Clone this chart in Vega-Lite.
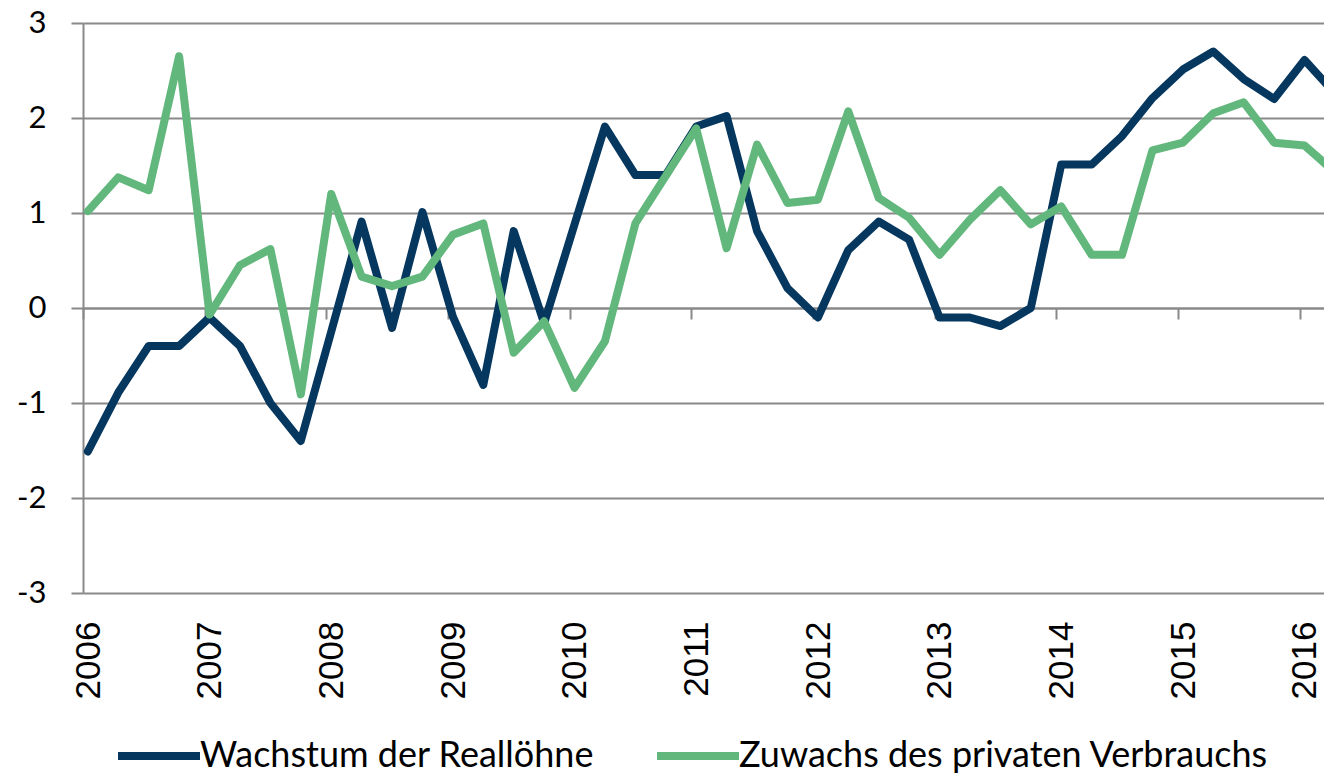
{
  "$schema": "https://vega.github.io/schema/vega-lite/v6.json",
  "width": 1241,
  "height": 570,
  "autosize": {"type": "none"},
  "padding": {"left": 83, "top": 23, "right": 0, "bottom": 181},
  "background": "white",
  "config": {"view": {"stroke": null}},
  "data": {"values": [
    {"t": 2006.04, "v": -1.51, "s": "Wachstum der Reallöhne"},
    {"t": 2006.29, "v": -0.89, "s": "Wachstum der Reallöhne"},
    {"t": 2006.54, "v": -0.40, "s": "Wachstum der Reallöhne"},
    {"t": 2006.79, "v": -0.40, "s": "Wachstum der Reallöhne"},
    {"t": 2007.04, "v": -0.10, "s": "Wachstum der Reallöhne"},
    {"t": 2007.29, "v": -0.40, "s": "Wachstum der Reallöhne"},
    {"t": 2007.54, "v": -1.00, "s": "Wachstum der Reallöhne"},
    {"t": 2007.79, "v": -1.40, "s": "Wachstum der Reallöhne"},
    {"t": 2008.04, "v": -0.25, "s": "Wachstum der Reallöhne"},
    {"t": 2008.29, "v": 0.91, "s": "Wachstum der Reallöhne"},
    {"t": 2008.54, "v": -0.21, "s": "Wachstum der Reallöhne"},
    {"t": 2008.79, "v": 1.01, "s": "Wachstum der Reallöhne"},
    {"t": 2009.04, "v": -0.09, "s": "Wachstum der Reallöhne"},
    {"t": 2009.29, "v": -0.81, "s": "Wachstum der Reallöhne"},
    {"t": 2009.54, "v": 0.81, "s": "Wachstum der Reallöhne"},
    {"t": 2009.79, "v": -0.16, "s": "Wachstum der Reallöhne"},
    {"t": 2010.04, "v": 0.88, "s": "Wachstum der Reallöhne"},
    {"t": 2010.29, "v": 1.91, "s": "Wachstum der Reallöhne"},
    {"t": 2010.54, "v": 1.40, "s": "Wachstum der Reallöhne"},
    {"t": 2010.79, "v": 1.40, "s": "Wachstum der Reallöhne"},
    {"t": 2011.04, "v": 1.91, "s": "Wachstum der Reallöhne"},
    {"t": 2011.29, "v": 2.02, "s": "Wachstum der Reallöhne"},
    {"t": 2011.54, "v": 0.81, "s": "Wachstum der Reallöhne"},
    {"t": 2011.79, "v": 0.21, "s": "Wachstum der Reallöhne"},
    {"t": 2012.04, "v": -0.10, "s": "Wachstum der Reallöhne"},
    {"t": 2012.29, "v": 0.61, "s": "Wachstum der Reallöhne"},
    {"t": 2012.54, "v": 0.91, "s": "Wachstum der Reallöhne"},
    {"t": 2012.79, "v": 0.72, "s": "Wachstum der Reallöhne"},
    {"t": 2013.04, "v": -0.10, "s": "Wachstum der Reallöhne"},
    {"t": 2013.29, "v": -0.10, "s": "Wachstum der Reallöhne"},
    {"t": 2013.54, "v": -0.19, "s": "Wachstum der Reallöhne"},
    {"t": 2013.79, "v": 0.00, "s": "Wachstum der Reallöhne"},
    {"t": 2014.04, "v": 1.51, "s": "Wachstum der Reallöhne"},
    {"t": 2014.29, "v": 1.51, "s": "Wachstum der Reallöhne"},
    {"t": 2014.54, "v": 1.81, "s": "Wachstum der Reallöhne"},
    {"t": 2014.79, "v": 2.21, "s": "Wachstum der Reallöhne"},
    {"t": 2015.04, "v": 2.51, "s": "Wachstum der Reallöhne"},
    {"t": 2015.29, "v": 2.70, "s": "Wachstum der Reallöhne"},
    {"t": 2015.54, "v": 2.41, "s": "Wachstum der Reallöhne"},
    {"t": 2015.79, "v": 2.20, "s": "Wachstum der Reallöhne"},
    {"t": 2016.04, "v": 2.61, "s": "Wachstum der Reallöhne"},
    {"t": 2016.29, "v": 2.26, "s": "Wachstum der Reallöhne"},
    {"t": 2006.04, "v": 1.02, "s": "Zuwachs des privaten Verbrauchs"},
    {"t": 2006.29, "v": 1.375, "s": "Zuwachs des privaten Verbrauchs"},
    {"t": 2006.54, "v": 1.24, "s": "Zuwachs des privaten Verbrauchs"},
    {"t": 2006.79, "v": 2.65, "s": "Zuwachs des privaten Verbrauchs"},
    {"t": 2007.04, "v": -0.07, "s": "Zuwachs des privaten Verbrauchs"},
    {"t": 2007.29, "v": 0.45, "s": "Zuwachs des privaten Verbrauchs"},
    {"t": 2007.54, "v": 0.62, "s": "Zuwachs des privaten Verbrauchs"},
    {"t": 2007.79, "v": -0.91, "s": "Zuwachs des privaten Verbrauchs"},
    {"t": 2008.04, "v": 1.20, "s": "Zuwachs des privaten Verbrauchs"},
    {"t": 2008.29, "v": 0.33, "s": "Zuwachs des privaten Verbrauchs"},
    {"t": 2008.54, "v": 0.23, "s": "Zuwachs des privaten Verbrauchs"},
    {"t": 2008.79, "v": 0.33, "s": "Zuwachs des privaten Verbrauchs"},
    {"t": 2009.04, "v": 0.77, "s": "Zuwachs des privaten Verbrauchs"},
    {"t": 2009.29, "v": 0.89, "s": "Zuwachs des privaten Verbrauchs"},
    {"t": 2009.54, "v": -0.47, "s": "Zuwachs des privaten Verbrauchs"},
    {"t": 2009.79, "v": -0.14, "s": "Zuwachs des privaten Verbrauchs"},
    {"t": 2010.04, "v": -0.84, "s": "Zuwachs des privaten Verbrauchs"},
    {"t": 2010.29, "v": -0.35, "s": "Zuwachs des privaten Verbrauchs"},
    {"t": 2010.54, "v": 0.89, "s": "Zuwachs des privaten Verbrauchs"},
    {"t": 2010.79, "v": 1.39, "s": "Zuwachs des privaten Verbrauchs"},
    {"t": 2011.04, "v": 1.89, "s": "Zuwachs des privaten Verbrauchs"},
    {"t": 2011.29, "v": 0.63, "s": "Zuwachs des privaten Verbrauchs"},
    {"t": 2011.54, "v": 1.72, "s": "Zuwachs des privaten Verbrauchs"},
    {"t": 2011.79, "v": 1.105, "s": "Zuwachs des privaten Verbrauchs"},
    {"t": 2012.04, "v": 1.14, "s": "Zuwachs des privaten Verbrauchs"},
    {"t": 2012.29, "v": 2.07, "s": "Zuwachs des privaten Verbrauchs"},
    {"t": 2012.54, "v": 1.16, "s": "Zuwachs des privaten Verbrauchs"},
    {"t": 2012.79, "v": 0.95, "s": "Zuwachs des privaten Verbrauchs"},
    {"t": 2013.04, "v": 0.56, "s": "Zuwachs des privaten Verbrauchs"},
    {"t": 2013.29, "v": 0.93, "s": "Zuwachs des privaten Verbrauchs"},
    {"t": 2013.54, "v": 1.24, "s": "Zuwachs des privaten Verbrauchs"},
    {"t": 2013.79, "v": 0.88, "s": "Zuwachs des privaten Verbrauchs"},
    {"t": 2014.04, "v": 1.07, "s": "Zuwachs des privaten Verbrauchs"},
    {"t": 2014.29, "v": 0.56, "s": "Zuwachs des privaten Verbrauchs"},
    {"t": 2014.54, "v": 0.56, "s": "Zuwachs des privaten Verbrauchs"},
    {"t": 2014.79, "v": 1.66, "s": "Zuwachs des privaten Verbrauchs"},
    {"t": 2015.04, "v": 1.74, "s": "Zuwachs des privaten Verbrauchs"},
    {"t": 2015.29, "v": 2.05, "s": "Zuwachs des privaten Verbrauchs"},
    {"t": 2015.54, "v": 2.165, "s": "Zuwachs des privaten Verbrauchs"},
    {"t": 2015.79, "v": 1.74, "s": "Zuwachs des privaten Verbrauchs"},
    {"t": 2016.04, "v": 1.71, "s": "Zuwachs des privaten Verbrauchs"},
    {"t": 2016.29, "v": 1.43, "s": "Zuwachs des privaten Verbrauchs"}
  ]},
  "mark": {"type": "line", "strokeWidth": 8, "strokeJoin": "round", "strokeCap": "round", "clip": true},
  "encoding": {
    "x": {
      "field": "t", "type": "quantitative",
      "scale": {"domain": [2006, 2016.2], "nice": false, "zero": false},
      "axis": {
        "values": [2006, 2007, 2008, 2009, 2010, 2011, 2012, 2013, 2014, 2015, 2016],
        "title": null, "grid": false, "offset": -285,
        "domainColor": "#898989", "domainWidth": 2,
        "tickColor": "#898989", "tickWidth": 2, "tickSize": 11,
        "labelAngle": -90, "labelAlign": "right", "labelBaseline": "middle",
        "labelPadding": 302, "labelOffset": 5,
        "labelFont": "Liberation Sans", "labelFontSize": 35, "labelColor": "black",
        "format": "d", "labelOverlap": false, "labelBound": false, "labelFlush": false
      }
    },
    "y": {
      "field": "v", "type": "quantitative",
      "scale": {"domain": [-3, 3], "nice": false},
      "axis": {
        "values": [-3, -2, -1, 0, 1, 2, 3],
        "title": null, "grid": true, "gridColor": "#898989", "gridWidth": 2,
        "domainColor": "#898989", "domainWidth": 2,
        "tickColor": "#898989", "tickWidth": 2, "tickSize": 12,
        "labelPadding": 25, "labelFont": "Lato", "labelFontSize": 31, "labelColor": "black",
        "labelExpr": "'' + datum.value", "labelFlush": false, "labelOverlap": false
      }
    },
    "color": {
      "field": "s", "type": "nominal",
      "scale": {"domain": ["Wachstum der Reallöhne", "Zuwachs des privaten Verbrauchs"], "range": ["#06375f", "#62b77c"]},
      "legend": {
        "orient": "none", "legendX": 31, "legendY": 688, "direction": "horizontal",
        "title": null, "symbolType": "stroke", "symbolSize": 6724, "symbolStrokeWidth": 8,
        "labelFont": "Lato", "labelFontSize": 36, "labelColor": "black", "labelLimit": 0,
        "labelOffset": -4, "columnPadding": 46, "padding": 0
      }
    }
  }
}
